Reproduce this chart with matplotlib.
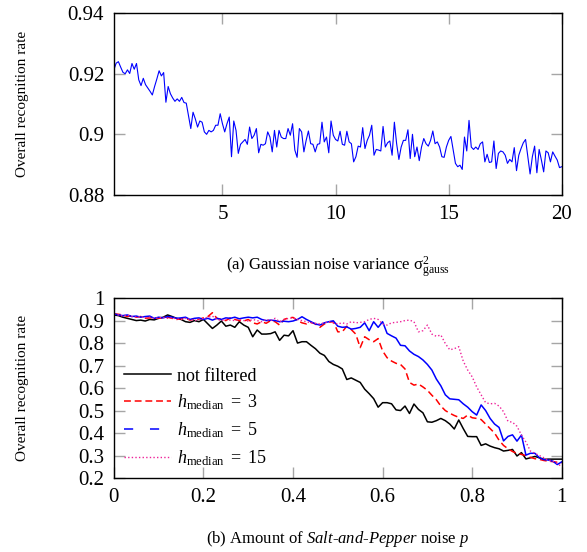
#!/usr/bin/env python3
"""Recognition rate under Gaussian and salt-and-pepper noise."""

import matplotlib
matplotlib.use("Agg")
import matplotlib.pyplot as plt
from matplotlib.lines import Line2D
import numpy as np

plt.rcParams["font.family"] = ["Liberation Serif", "DejaVu Serif"]
plt.rcParams["mathtext.fontset"] = "custom"
plt.rcParams["mathtext.rm"] = "Liberation Serif"
plt.rcParams["mathtext.it"] = "Liberation Serif:italic"
plt.rcParams["mathtext.bf"] = "Liberation Serif:bold"

# (a) Gaussian noise variance, step 0.1 from 0.2 to 20
gauss_var = np.round(np.arange(0.2, 20.001, 0.1), 1)
gauss_rate = [
    0.9213, 0.9235, 0.9240, 0.9222, 0.9205, 0.9200, 0.9213, 0.9201, 0.9234, 0.9215,
    0.9234, 0.9180, 0.9161, 0.9185, 0.9164, 0.9153, 0.9142, 0.9130, 0.9158, 0.9183,
    0.9210, 0.9193, 0.9204, 0.9106, 0.9158, 0.9134, 0.9120, 0.9109, 0.9117, 0.9109,
    0.9122, 0.9105, 0.9103, 0.9062, 0.9019, 0.9073, 0.9051, 0.9024, 0.9044, 0.9040,
    0.9008, 0.9000, 0.9013, 0.9008, 0.9013, 0.9030, 0.9030, 0.9068, 0.9035, 0.9008,
    0.9035, 0.9057, 0.8926, 0.9044, 0.9013, 0.8937, 0.8967, 0.8975, 0.8983, 0.8967,
    0.9024, 0.8986, 0.8997, 0.9019, 0.8939, 0.8967, 0.8964, 0.8969, 0.9008, 0.8991,
    0.8942, 0.9013, 0.8958, 0.9013, 0.8991, 0.8986, 0.8986, 0.9019, 0.8997, 0.9035,
    0.8948, 0.8924, 0.9019, 0.9008, 0.8942, 0.8980, 0.9011, 0.8969, 0.8967, 0.8942,
    0.8967, 0.8969, 0.9040, 0.8975, 0.8991, 0.8939, 0.9044, 0.8997, 0.8983, 0.8978,
    0.9010, 0.8967, 0.8964, 0.9010, 0.8975, 0.8969, 0.8909, 0.8926, 0.8961, 0.8958,
    0.9022, 0.8953, 0.8980, 0.8997, 0.9030, 0.8931, 0.8950, 0.8948, 0.8945, 0.9026,
    0.8958, 0.8972, 0.8978, 0.8931, 0.9040, 0.8969, 0.8917, 0.8958, 0.8980, 0.8980,
    0.9015, 0.8920, 0.9000, 0.8926, 0.8958, 0.8913, 0.8958, 0.8986, 0.8969, 0.8961,
    0.8980, 0.9011, 0.8969, 0.8975, 0.8958, 0.8926, 0.8924, 0.8958, 0.8980, 0.8993,
    0.8948, 0.8904, 0.8893, 0.8898, 0.8884, 0.8991, 0.8945, 0.9046, 0.8958, 0.8950,
    0.8958, 0.8950, 0.8969, 0.8975, 0.8909, 0.8934, 0.8907, 0.8909, 0.8978, 0.8887,
    0.8937, 0.8945, 0.8942, 0.8931, 0.8904, 0.8917, 0.8909, 0.8956, 0.8880, 0.8931,
    0.8953, 0.8972, 0.8983, 0.8926, 0.8869, 0.8926, 0.8961, 0.8873, 0.8950, 0.8915,
    0.8876, 0.8945, 0.8939, 0.8909, 0.8942, 0.8928, 0.8915, 0.8890, 0.8893,
]

# (b) salt-and-pepper amount p, step 0.01
sp_amount = np.round(np.arange(0.0, 1.0001, 0.01), 2)
not_filtered = [
    0.925, 0.922, 0.915, 0.910, 0.905, 0.900, 0.902, 0.898, 0.905, 0.903,
    0.910, 0.915, 0.925, 0.918, 0.910, 0.905, 0.895, 0.892, 0.900, 0.895,
    0.905, 0.885, 0.865, 0.880, 0.898, 0.875, 0.880, 0.870, 0.895, 0.880,
    0.870, 0.828, 0.858, 0.840, 0.840, 0.842, 0.850, 0.812, 0.835, 0.832,
    0.855, 0.800, 0.806, 0.806, 0.790, 0.775, 0.755, 0.745, 0.718, 0.705,
    0.697, 0.685, 0.638, 0.645, 0.635, 0.625, 0.595, 0.575, 0.553, 0.515,
    0.535, 0.535, 0.530, 0.503, 0.500, 0.520, 0.487, 0.529, 0.505, 0.490,
    0.450, 0.448, 0.455, 0.465, 0.455, 0.440, 0.418, 0.458, 0.420, 0.385,
    0.384, 0.384, 0.345, 0.352, 0.342, 0.335, 0.330, 0.320, 0.323, 0.327,
    0.298, 0.313, 0.285, 0.290, 0.296, 0.290, 0.283, 0.284, 0.284, 0.284,
    0.284,
]
median_3 = [
    0.930, 0.928, 0.925, 0.918, 0.922, 0.915, 0.918, 0.910, 0.912, 0.912,
    0.910, 0.912, 0.915, 0.910, 0.905, 0.908, 0.910, 0.902, 0.908, 0.905,
    0.912, 0.918, 0.935, 0.910, 0.905, 0.900, 0.912, 0.905, 0.900, 0.898,
    0.905, 0.890, 0.885, 0.895, 0.888, 0.900, 0.895, 0.880, 0.905, 0.912,
    0.914, 0.900, 0.890, 0.885, 0.892, 0.885, 0.870, 0.885, 0.893, 0.895,
    0.850, 0.850, 0.875, 0.860, 0.840, 0.780, 0.828, 0.815, 0.806, 0.820,
    0.765, 0.735, 0.720, 0.710, 0.705, 0.685, 0.625, 0.613, 0.618, 0.605,
    0.590, 0.568, 0.548, 0.520, 0.500, 0.488, 0.478, 0.470, 0.465, 0.480,
    0.468, 0.465, 0.460, 0.440, 0.420, 0.400, 0.368, 0.345, 0.330, 0.318,
    0.310, 0.305, 0.300, 0.292, 0.286, 0.283, 0.278, 0.275, 0.273, 0.270,
    0.268,
]
median_5 = [
    0.930, 0.925, 0.922, 0.925, 0.918, 0.920, 0.915, 0.918, 0.920, 0.910,
    0.915, 0.912, 0.918, 0.915, 0.910, 0.912, 0.915, 0.905, 0.910, 0.912,
    0.905, 0.910, 0.902, 0.910, 0.905, 0.912, 0.910, 0.915, 0.908, 0.912,
    0.915, 0.912, 0.915, 0.905, 0.900, 0.902, 0.900, 0.895, 0.897, 0.895,
    0.898, 0.905, 0.917, 0.905, 0.895, 0.885, 0.880, 0.890, 0.895, 0.899,
    0.875, 0.870, 0.872, 0.862, 0.865, 0.870, 0.890, 0.855, 0.895, 0.870,
    0.895, 0.843, 0.832, 0.822, 0.790, 0.788, 0.765, 0.750, 0.740, 0.725,
    0.705, 0.680, 0.640, 0.610, 0.570, 0.552, 0.550, 0.548, 0.530, 0.515,
    0.495, 0.480, 0.525, 0.500, 0.465, 0.440, 0.425, 0.365, 0.385, 0.392,
    0.364, 0.391, 0.302, 0.310, 0.310, 0.290, 0.282, 0.280, 0.275, 0.260,
    0.272,
]
median_15 = [
    0.928, 0.925, 0.920, 0.925, 0.918, 0.915, 0.918, 0.912, 0.915, 0.910,
    0.912, 0.915, 0.910, 0.912, 0.908, 0.905, 0.910, 0.905, 0.900, 0.905,
    0.910, 0.915, 0.920, 0.905, 0.900, 0.905, 0.902, 0.900, 0.905, 0.900,
    0.898, 0.905, 0.900, 0.895, 0.905, 0.900, 0.910, 0.895, 0.905, 0.910,
    0.912, 0.905, 0.900, 0.895, 0.890, 0.888, 0.885, 0.890, 0.895, 0.890,
    0.885, 0.890, 0.885, 0.895, 0.890, 0.892, 0.895, 0.905, 0.910, 0.905,
    0.885, 0.880, 0.890, 0.892, 0.895, 0.900, 0.902, 0.895, 0.850, 0.855,
    0.880, 0.840, 0.830, 0.836, 0.798, 0.770, 0.775, 0.784, 0.720, 0.680,
    0.650, 0.605, 0.570, 0.535, 0.530, 0.532, 0.520, 0.495, 0.452, 0.448,
    0.430, 0.391, 0.360, 0.320, 0.310, 0.300, 0.290, 0.280, 0.275, 0.265,
    0.250,
]

TICK_GRAY = "#a6a6a6"
MAGENTA = "#ee2299"


def style_axes(ax):
    ax.tick_params(direction="in", length=8, width=1, color=TICK_GRAY,
                   top=True, right=True, labelsize=15, pad=7)
    for spine in ax.spines.values():
        spine.set_linewidth(1.0)
        spine.set_color("black")


fig = plt.figure(figsize=(5.87, 5.52), dpi=100)
ax_a = fig.add_axes([0.194, 0.647, 0.763, 0.329])
ax_b = fig.add_axes([0.194, 0.134, 0.763, 0.326])

# --- (a)
ax_a.plot(gauss_var, gauss_rate, color="#0000ff", linewidth=0.8)
ax_a.set_xlim(0.2, 20)
ax_a.set_ylim(0.88, 0.94)
ax_a.set_xticks([5, 10, 15, 20])
ax_a.set_yticks([0.88, 0.90, 0.92, 0.94])
ax_a.set_yticklabels(["0.88", "0.9", "0.92", "0.94"])
ax_a.set_ylabel("Overall recognition rate", fontsize=11)
ax_a.yaxis.set_label_coords(-0.19, 0.5)
style_axes(ax_a)
ax_a.text(0.5, -0.4, "(a) Gaussian noise variance σ$^2_{\\mathrm{gauss}}$",
          transform=ax_a.transAxes, ha="center", va="center", fontsize=12)

# --- (b)
ax_b.plot(sp_amount, not_filtered, color="black", linewidth=1.1)
ax_b.plot(sp_amount, median_3, color="#ff0000", linewidth=1.1, dashes=(4.5, 2.5))
ax_b.plot(sp_amount, median_5, color="#0000ff", linewidth=1.1)
ax_b.plot(sp_amount, median_15, color=MAGENTA, linewidth=1.0, dashes=(1, 1.6))
ax_b.set_xlim(0, 1)
ax_b.set_ylim(0.2, 1.0)
ax_b.set_xticks([0, 0.2, 0.4, 0.6, 0.8, 1.0])
ax_b.set_xticklabels(["0", "0.2", "0.4", "0.6", "0.8", "1"])
ax_b.set_yticks(np.round(np.arange(0.2, 1.001, 0.1), 1))
ax_b.set_yticklabels(["0.2", "0.3", "0.4", "0.5", "0.6", "0.7", "0.8", "0.9", "1"])
ax_b.set_ylabel("Overall recognition rate", fontsize=11)
ax_b.yaxis.set_label_coords(-0.19, 0.5)
style_axes(ax_b)

handles = [
    Line2D([], [], color="black", linewidth=1.1),
    Line2D([], [], color="#ff0000", linewidth=1.1, dashes=(4.5, 2.5)),
    Line2D([], [], color="#0000ff", linewidth=1.1, dashes=(6, 11)),
    Line2D([], [], color=MAGENTA, linewidth=1.0, dashes=(1, 1.6)),
]
labels = [
    "not filtered",
    r"$h_{\mathrm{median}}\ =\ 3$",
    r"$h_{\mathrm{median}}\ =\ 5$",
    r"$h_{\mathrm{median}}\ =\ 15$",
]
ax_b.legend(handles, labels, loc="lower left", bbox_to_anchor=(0.0, 0.0),
            frameon=False, fontsize=13, handlelength=2.6, handletextpad=0.35,
            labelspacing=0.45, borderaxespad=0.15)
ax_b.text(0.5, -0.34,
          r"(b) Amount of $\mathit{Salt}$-$\mathit{and}$-$\mathit{Pepper}$ noise $p$",
          transform=ax_b.transAxes, ha="center", va="center", fontsize=12)

fig.savefig("out.png", dpi=100)
